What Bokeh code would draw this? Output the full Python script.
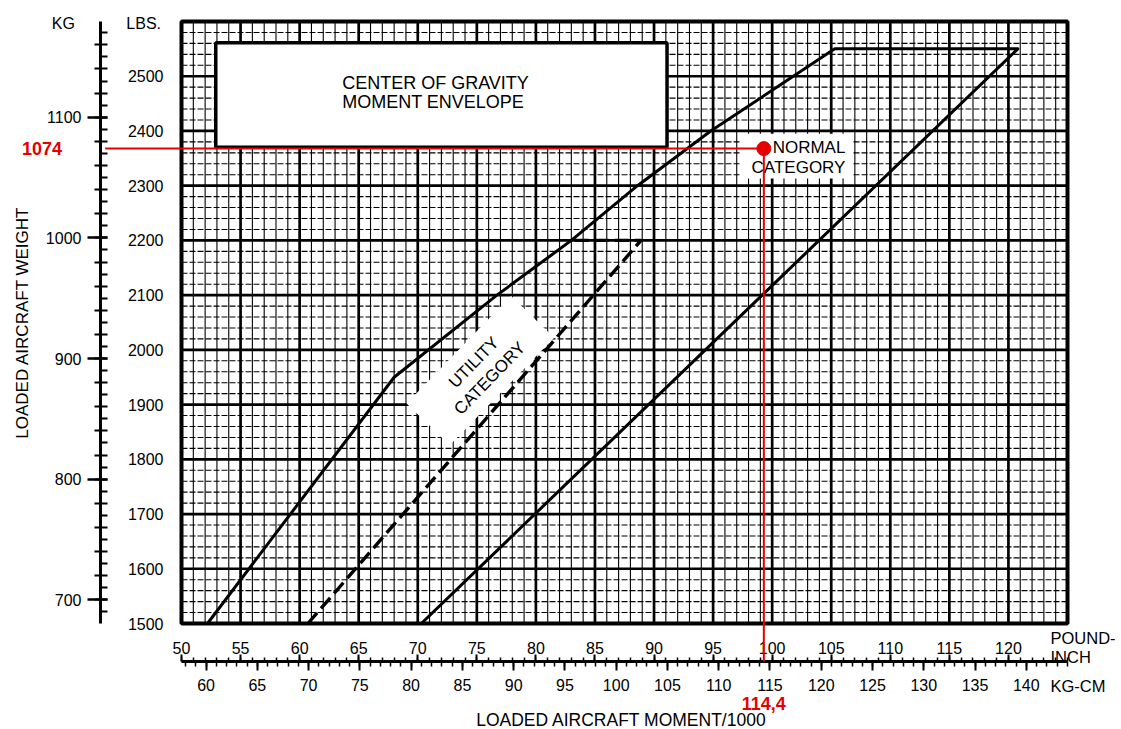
from bokeh.plotting import figure
from bokeh.models import (Range1d, LinearAxis, FixedTicker, SingleIntervalTicker, Grid,
                          Label, Arrow)
from bokeh.embed import file_html
from bokeh.resources import INLINE

# ---------------- data ----------------
# Normal category envelope: loaded moment /1000 (lb-in) vs weight (lbs)
NORMAL_MOMENT = [52.2, 68.0, 76.7, 83.0, 88.6, 94.8, 105.3, 120.8, 70.3]
NORMAL_WEIGHT = [1500, 1950, 2100, 2200, 2300, 2400, 2550, 2550, 1500]
# Utility category (dashed) boundary
UTILITY_MOMENT = [60.7, 88.9, 83.0]
UTILITY_WEIGHT = [1500, 2200, 2200]

LBS_TICKS = [1500, 1600, 1700, 1800, 1900, 2000, 2100, 2200, 2300, 2400, 2500]
KG_TICKS = [700, 800, 900, 1000, 1100]
PI_TICKS = [50, 55, 60, 65, 70, 75, 80, 85, 90, 95, 100, 105, 110, 115, 120]
KGCM_TICKS = [60, 65, 70, 75, 80, 85, 90, 95, 100, 105, 110, 115, 120, 125, 130, 135, 140]

POINT_KG = 1074      # marked weight (kg)
POINT_KGCM = 114.4   # marked moment (kg-cm /1000)

LB_PER_KG = 2.20462
KGCM_PER_LBIN = 1.15212

# chart region (lb-in /1000, lbs)
X0, X1 = 50, 125
Y0, Y1 = 1500, 2600

FONT = "Liberation Sans"
RED = "#e60000"

# canvas layout: the chart region occupies pixels 181..1067 x 21..623
W, H = 1121, 729
GL, GR, GT, GB = 181, 1067, 21, 623
sx = (GR - GL) / (X1 - X0)
sy = (GB - GT) / (Y1 - Y0)
XS, XE = X0 - GL / sx, X1 + (W - GR) / sx
YS, YE = Y0 - (H - GB) / sy, Y1 + GT / sy

p = figure(width=W, height=H, title=None,
           x_range=Range1d(XS, XE), y_range=Range1d(YS, YE),
           x_axis_location=None, y_axis_location=None,
           toolbar_location=None, output_backend="svg",
           min_border_left=0, min_border_right=0,
           min_border_top=0, min_border_bottom=0)
p.background_fill_color = "white"
p.border_fill_color = "white"
p.outline_line_color = None
p.center = [c for c in p.center if not isinstance(c, Grid)]

p.extra_y_ranges = {"kg": Range1d(YS / LB_PER_KG, YE / LB_PER_KG)}
p.extra_x_ranges = {"kgcm": Range1d(XS * KGCM_PER_LBIN, XE * KGCM_PER_LBIN)}

# ---------------- chart grid (limited to the chart region) ----------------
vx_major = [x for x in range(X0 + 5, X1, 5)]
vx_minor = [x for x in range(X0, X1 + 1) if x % 5 != 0]
hy_major = [y for y in range(Y0 + 100, Y1, 100)]
hy_minor = [y for y in range(Y0, Y1 + 1, 20) if y % 100 != 0]

p.segment(x0=vx_minor, x1=vx_minor, y0=[Y0] * len(vx_minor), y1=[Y1] * len(vx_minor),
          line_color="black", line_width=1.1)
p.segment(x0=[X0] * len(hy_minor), x1=[X1] * len(hy_minor), y0=hy_minor, y1=hy_minor,
          line_color="black", line_width=1.1, line_dash="6 2")
p.segment(x0=vx_major, x1=vx_major, y0=[Y0] * len(vx_major), y1=[Y1] * len(vx_major),
          line_color="black", line_width=2.7)
p.segment(x0=[X0] * len(hy_major), x1=[X1] * len(hy_major), y0=hy_major, y1=hy_major,
          line_color="black", line_width=2.7)
# chart border
p.quad(left=[X0], right=[X1], bottom=[Y0], top=[Y1],
       fill_color=None, line_color="black", line_width=4)

# ---------------- white label backgrounds / title box ----------------
p.quad(left=[52.9], right=[91.1], bottom=[2370], top=[2561],
       fill_color="white", line_color="black", line_width=3.5)
p.quad(left=[97.3], right=[106.8], bottom=[2313], top=[2395],
       fill_color="white", line_color=None)
p.rect(x=[75.3], y=[1962], width=150, height=60, width_units="screen",
       height_units="screen", angle=0.80, fill_color="white", line_color=None)

# ---------------- envelope ----------------
p.line(NORMAL_MOMENT, NORMAL_WEIGHT, line_color="black", line_width=3, line_join="round")
p.line(UTILITY_MOMENT, UTILITY_WEIGHT, line_color="black", line_width=3.4,
       line_dash="14 6", line_join="round")

# ---------------- axes ----------------
KG_AXIS_X = 43.14       # lb-in position of the kg scale
BOTTOM_AXIS_Y = 1430.6  # lbs position of the moment scales

def style_labels(ax, size="16px"):
    ax.major_label_text_font = FONT
    ax.major_label_text_font_size = size
    ax.major_label_text_color = "black"

lbs_axis = LinearAxis(fixed_location=X0, ticker=FixedTicker(ticks=LBS_TICKS),
                      bounds=(Y0, Y1),
                      axis_line_color=None, major_tick_line_color=None,
                      minor_tick_line_color=None, major_tick_out=0, major_tick_in=0,
                      minor_tick_out=0, minor_tick_in=0, major_label_standoff=18)
style_labels(lbs_axis)
p.add_layout(lbs_axis, "left")

kg_axis = LinearAxis(y_range_name="kg", fixed_location=KG_AXIS_X,
                     bounds=(Y0 / LB_PER_KG, Y1 / LB_PER_KG),
                     ticker=SingleIntervalTicker(interval=100, num_minor_ticks=10),
                     axis_line_width=3, axis_line_color="black",
                     major_tick_line_width=2.5, minor_tick_line_width=2,
                     major_tick_out=13, major_tick_in=7,
                     minor_tick_out=0, minor_tick_in=7,
                     major_label_standoff=6)
style_labels(kg_axis)
p.add_layout(kg_axis, "left")

kg20_axis = LinearAxis(y_range_name="kg", fixed_location=KG_AXIS_X,
                       bounds=(Y0 / LB_PER_KG, Y1 / LB_PER_KG),
                       ticker=SingleIntervalTicker(interval=20, num_minor_ticks=0),
                       axis_line_color=None, major_tick_out=6, major_tick_in=0,
                       major_tick_line_width=2, minor_tick_line_color=None,
                       major_label_text_color=None)
p.add_layout(kg20_axis, "left")

pi_axis = LinearAxis(fixed_location=BOTTOM_AXIS_Y, bounds=(X0, X1),
                     ticker=FixedTicker(ticks=PI_TICKS, minor_ticks=list(range(50, 126))),
                     axis_line_width=3, axis_line_color="black",
                     major_tick_out=7, major_tick_in=0, minor_tick_out=4, minor_tick_in=0,
                     major_tick_line_width=2, minor_tick_line_width=1.5,
                     major_label_standoff=0)
style_labels(pi_axis)
p.add_layout(pi_axis, "above")

kgcm_axis = LinearAxis(x_range_name="kgcm", fixed_location=BOTTOM_AXIS_Y,
                       bounds=(X0 * KGCM_PER_LBIN, X1 * KGCM_PER_LBIN),
                       ticker=FixedTicker(ticks=KGCM_TICKS, minor_ticks=list(range(58, 145))),
                       axis_line_color=None,
                       major_tick_out=9, major_tick_in=0, minor_tick_out=5, minor_tick_in=0,
                       major_tick_line_width=2, minor_tick_line_width=1.5,
                       major_label_standoff=9)
style_labels(kgcm_axis)
p.add_layout(kgcm_axis, "below")

# ---------------- texts ----------------
def lab(x, y, text, size="16px", align="center", baseline="middle", angle=0.0,
        color="black", style="normal", **kw):
    p.add_layout(Label(x=x, y=y, text=text, text_font=FONT, text_font_size=size,
                       text_align=align, text_baseline=baseline, angle=angle,
                       text_color=color, text_font_style=style, **kw))

lab(40.0, 2596.4, "KG")
lab(46.8, 2596.4, "LBS.")
lab(123.56, 1474.4, "POUND-", size="16.5px", align="left")
lab(123.56, 1439.7, "INCH", size="16.5px", align="left")
lab(123.56, 1386.7, "KG-CM", size="16.5px", align="left")

lab(36.54, 2050.0, "LOADED AIRCRAFT WEIGHT", size="17px", angle=1.5708)
lab(87.25, 1322.8, "LOADED AIRCRAFT MOMENT/1000", size="17.5px")

lab(63.6, 2488.5, "CENTER OF GRAVITY", size="18px", align="left")
lab(63.6, 2452.0, "MOMENT ENVELOPE", size="18px", align="left")

lab(106.2, 2369.8, "NORMAL", size="17px", align="right")
lab(106.2, 2333.2, "CATEGORY", size="17px", align="right")

lab(74.75, 1977, "UTILITY", size="17px", angle=0.80)
lab(76.1, 1948, "CATEGORY", size="17px", angle=0.80)

# ---------------- red reading of the marked point ----------------
pt_x = POINT_KGCM / KGCM_PER_LBIN
pt_y = POINT_KG * LB_PER_KG
p.add_layout(Arrow(x_start=KG_AXIS_X + 0.4, y_start=pt_y, x_end=pt_x, y_end=pt_y,
                   end=None, line_color=RED, line_width=2))
p.add_layout(Arrow(x_start=pt_x, y_start=pt_y, x_end=pt_x, y_end=BOTTOM_AXIS_Y,
                   end=None, line_color=RED, line_width=2))
p.scatter(x=[POINT_KGCM], y=[POINT_KG], x_range_name="kgcm", y_range_name="kg",
          size=14, fill_color=RED, line_color=RED)

lab(38.2, pt_y, str(POINT_KG), size="18px", color=RED, style="bold")
lab(POINT_KGCM, 1353.8, "114,4", size="18px", color=RED, style="bold",
    x_range_name="kgcm")

open("out.html", "w").write(file_html(p, INLINE))
